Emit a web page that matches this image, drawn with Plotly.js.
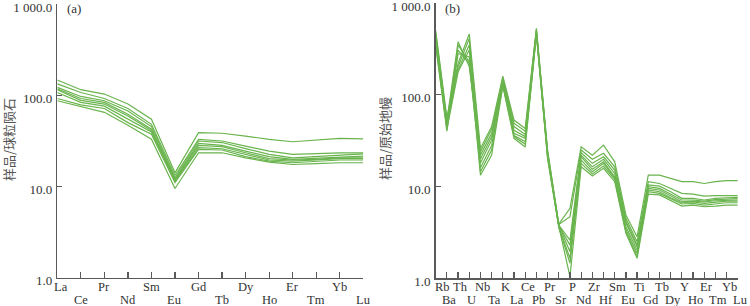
<!DOCTYPE html>
<html>
<head>
<meta charset="utf-8">
<script src="https://cdn.plot.ly/plotly-3.0.1.min.js"></script>
<style>html,body{margin:0;padding:0;background:#fff;}#chart{width:750px;height:306px;}</style>
</head>
<body>
<div id="chart"></div>
<script>
// ---------- Panel (a): chondrite-normalised REE ----------
const reeElements = ['La','Ce','Pr','Nd','Sm','Eu','Gd','Tb','Dy','Ho','Er','Tm','Yb','Lu'];
const reeS1 = [147,115,103,80,54.5,14.1,38.9,38.3,35.7,32.8,30.9,32.3,33.6,33.3];
const reeS2 = [133,107,92,71.6,48,13.2,32.8,31.5,27.7,24.4,22.5,23.0,23.4,23.4];
const reeS3 = [122,97,87,67.3,45.3,12.4,31.5,30.3,26,22.5,20.6,21.2,22.0,22.8];
const reeS4 = [118,92,83.5,62,42.4,11.9,29.7,28.2,24.4,21.2,19.8,20.3,21.2,21.5];
const reeS5 = [115,88,80,59.3,41,11.7,28.2,27.3,23.4,20.2,19.5,19.8,20.6,20.6];
const reeS6 = [107,83.5,76,54.5,39.5,11.3,26.6,25.9,22.5,19.5,19.0,19.5,20.2,20.2];
const reeS7 = [92,78.3,71.5,50.1,37.3,11.0,25.5,25.1,21.2,19.0,18.2,18.8,19.5,19.5];
const reeS8 = [87,75,65,46.9,32.9,9.5,23.4,23.4,20.6,18.5,17.4,17.8,18.2,18.2];

// ---------- Panel (b): primitive-mantle-normalised trace elements ----------
const traceElements = ['Rb','Ba','Th','U','Nb','Ta','K','La','Ce','Pb','Pr','Sr','P','Nd','Zr','Hf','Sm','Eu','Ti','Gd','Tb','Dy','Y','Ho','Er','Tm','Yb','Lu'];
const trS1 = [500,56,220,459,26,45,160,53,43,530,25,3.9,5.8,27.1,22,28.3,18.6,4.9,2.84,13.3,13.3,12.3,11.3,11.3,10.8,11.3,11.6,11.6];
const trS2 = [470,52,378,202,24,42,152,49,40,510,24,3.85,4.7,25,19.8,23,16.4,4.5,2.5,11.3,10.8,9.55,8.43,8.28,7.88,7.95,7.95,7.95];
const trS3 = [450,50,202,411,22,38,146,45,37,500,23,3.8,2.6,23.4,17.9,21.1,15.1,4.2,2.3,10.4,10.1,8.77,7.43,7.43,7.13,7.43,7.55,7.6];
const trS4 = [430,48,348,229,20,35,140,41,35,490,22.5,3.75,2.3,22,16.4,19.8,13.9,4.0,2.21,9.95,9.55,8.28,7.13,7.13,6.95,7.2,7.31,7.4];
const trS5 = [410,46,186,348,18,32,135,38,33.5,480,22,3.8,1.95,21.1,15.4,18.6,12.8,3.65,2.03,9.55,9.16,7.88,6.83,6.95,6.78,7.0,7.13,7.13];
const trS6 = [390,44,307,220,16,28,130,36,31,470,21.5,3.7,1.65,19.4,14.5,17.9,12.4,3.4,1.87,9.16,8.77,7.55,6.66,6.78,6.55,6.78,6.95,6.95];
const trS7 = [360,42,178,307,14.5,25,127,35,29,460,21,3.6,1.46,17.9,13.7,16.7,12.0,3.2,1.75,8.77,8.43,7.31,6.45,6.55,6.28,6.45,6.66,6.66];
const trS8 = [340,40,282,259,13.3,22,124,33.5,27,450,20,3.7,1.04,16.4,13.0,15.8,11.3,3.1,1.65,8.28,8.1,7.0,6.13,6.28,6.02,6.13,6.28,6.28];

const yTickVals = [1,10,100,1000];
const yTickText = ['1.0','10.0','100.0','1 000.0'];

const lineColor = '#6ab44e';
const axisColor = '#5a5a5a';
const serif = 'Liberation Serif, Times New Roman, serif';

const traces = [];
[reeS1,reeS2,reeS3,reeS4,reeS5,reeS6,reeS7,reeS8].forEach(s => {
  traces.push({x: reeElements.map((_, i) => i), y: s, xaxis: 'x', yaxis: 'y',
    type: 'scatter', mode: 'lines', line: {color: lineColor, width: 1.2}, hoverinfo: 'skip', showlegend: false});
});
[trS1,trS2,trS3,trS4,trS5,trS6,trS7,trS8].forEach(s => {
  traces.push({x: traceElements.map((_, i) => i), y: s, xaxis: 'x2', yaxis: 'y2',
    type: 'scatter', mode: 'lines', line: {color: lineColor, width: 1.2}, hoverinfo: 'skip', showlegend: false});
});

function xAxis(n, domain, anchor) {
  return {domain: domain, anchor: anchor, range: [0, n - 1], tickvals: [...Array(n).keys()],
    showticklabels: false, ticks: 'inside', ticklen: 6, tickwidth: 1.2, tickcolor: axisColor,
    showline: true, linecolor: axisColor, linewidth: 1.5, showgrid: false, zeroline: false, fixedrange: true};
}
function yAxis(domain, anchor, top) {
  return {domain: domain, anchor: anchor, type: 'log', range: [0, Math.log10(top)],
    tickvals: yTickVals, ticktext: yTickText, ticks: 'inside', ticklen: 5, tickwidth: 1.2, tickcolor: axisColor,
    showline: true, linecolor: axisColor, linewidth: 1.5, showgrid: false, zeroline: false,
    ticklabeloverflow: 'allow', ticklabelshift: 3, ticklabelstandoff: 1,
    tickfont: {family: serif, size: 13, color: '#333'}, fixedrange: true};
}

const annotations = [];
function labelRow(elements, xref, shift) {
  elements.forEach((el, i) => {
    annotations.push({x: i, xref: xref, y: (i % 2 === 0) ? (306 - 287) / 306 : (306 - 299.5) / 306, yref: 'paper',
      text: el, showarrow: false, xanchor: 'center', yanchor: 'middle', borderpad: 0,
      xshift: i === 0 ? shift + 4 : shift,
      font: {family: serif, size: 12.5, color: '#333'}});
  });
}
labelRow(reeElements, 'x', 0);
labelRow(traceElements, 'x2', 2.5);

annotations.push({x: 8 / 750, y: (306 - 140) / 306, xref: 'paper', yref: 'paper', text: '样品/球粒陨石', textangle: -90,
  showarrow: false, xanchor: 'center', yanchor: 'middle', font: {family: 'Noto Sans CJK SC', size: 13, color: '#555'}});
annotations.push({x: 384 / 750, y: (306 - 139) / 306, xref: 'paper', yref: 'paper', text: '样品/原始地幔', textangle: -90,
  showarrow: false, xanchor: 'center', yanchor: 'middle', font: {family: 'Noto Sans CJK SC', size: 13, color: '#555'}});
annotations.push({x: 65 / 750, y: (306 - 8) / 306, xref: 'paper', yref: 'paper', text: '(a)', showarrow: false,
  xanchor: 'left', yanchor: 'middle', font: {family: serif, size: 13, color: '#333'}});
annotations.push({x: 443 / 750, y: (306 - 8) / 306, xref: 'paper', yref: 'paper', text: '(b)', showarrow: false,
  xanchor: 'left', yanchor: 'middle', font: {family: serif, size: 13, color: '#333'}});

const layout = {
  width: 750, height: 306,
  margin: {l: 0, r: 0, t: 0, b: 0, pad: 0},
  paper_bgcolor: '#fff', plot_bgcolor: 'rgba(0,0,0,0)',
  showlegend: false,
  xaxis: xAxis(reeElements.length, [57.3 / 750, 363.3 / 750], 'y'),
  yaxis: yAxis([(306 - 277.7) / 306, (306 - 4) / 306], 'x', 1000),
  xaxis2: xAxis(traceElements.length, [435.7 / 750, 737.8 / 750], 'y2'),
  yaxis2: yAxis([(306 - 278.3) / 306, (306 - 3) / 306], 'x2', 1000),
  annotations: annotations
};

Plotly.newPlot('chart', traces, layout, {staticPlot: true, displayModeBar: false});
</script>
</body>
</html>
